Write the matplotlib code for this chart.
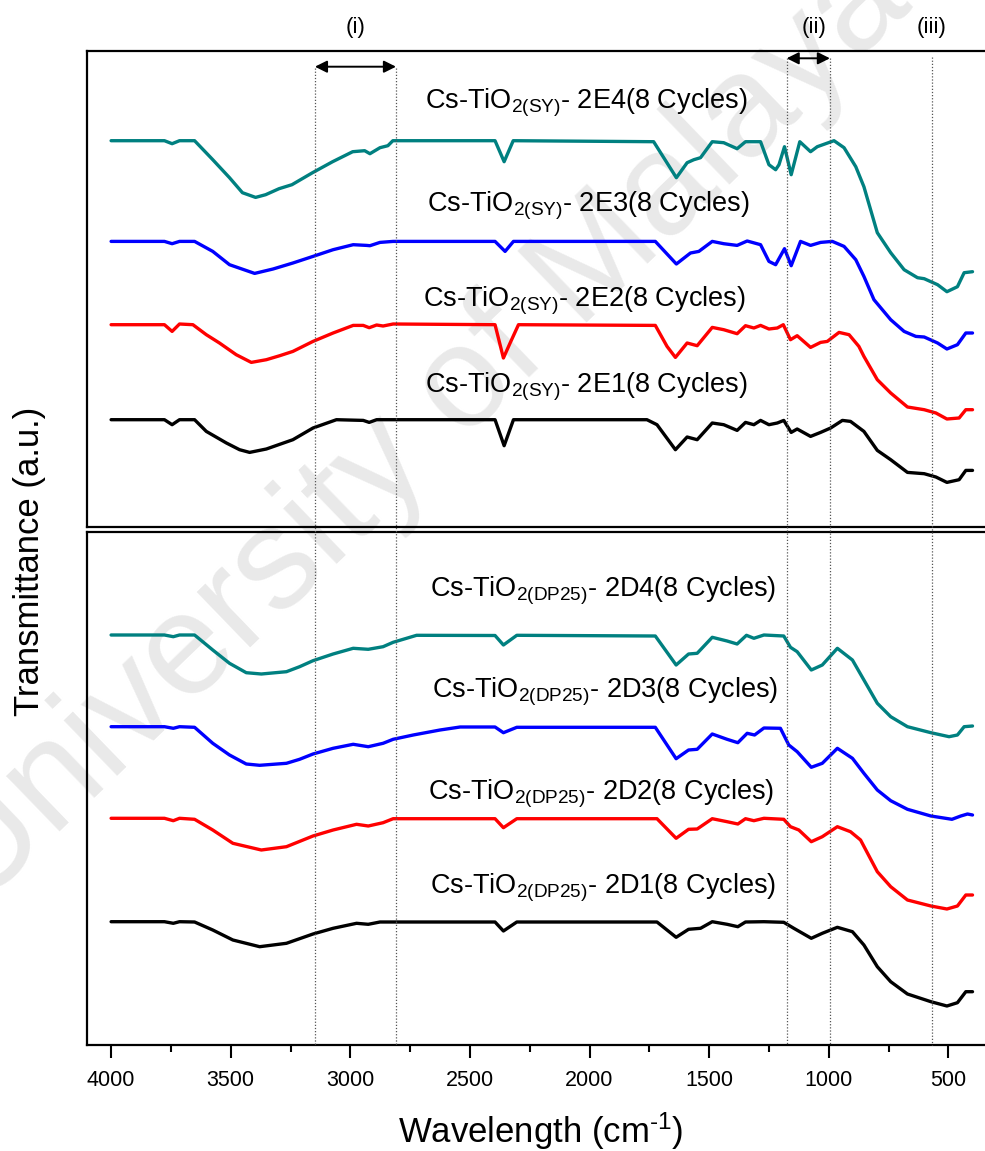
import numpy as np
import matplotlib
matplotlib.use("Agg")
import matplotlib.pyplot as plt
from matplotlib.lines import Line2D
from matplotlib.ticker import MultipleLocator
import matplotlib.transforms as mtransforms

plt.rcParams['font.family'] = ['Liberation Sans', 'DejaVu Sans']
plt.rcParams['mathtext.fontset'] = 'custom'
plt.rcParams['mathtext.rm'] = 'Liberation Sans'
plt.rcParams['mathtext.it'] = 'Liberation Sans:italic'
plt.rcParams['mathtext.bf'] = 'Liberation Sans:bold'

# ---------------- data (wavenumber cm-1, transmittance a.u.) ----------------
wn_2E4 = [4000, 3777, 3745, 3714, 3651, 3575, 3505, 3451, 3396, 3354, 3298, 3244, 3158, 3074, 2990,
          2940, 2918, 2876, 2843, 2822, 2395, 2357, 2319, 1732, 1637, 1592, 1564, 1536, 1487, 1439,
          1383, 1348, 1285, 1250, 1222, 1208, 1185, 1157, 1121, 1076, 1048, 978, 936, 887, 853, 797,
          741, 685, 629, 601, 545, 506, 462, 434, 399]
T_2E4 = [386, 386, 383, 386, 386, 367, 349, 334, 329.3, 332, 338, 342, 354, 365, 375,
         376, 373, 379, 381, 386, 386, 365, 386, 385, 349, 364, 367, 369, 385, 384,
         378, 385, 385, 362, 357, 362, 380, 352, 385, 375, 380, 386, 379, 360, 340, 294,
         274, 257, 249, 248, 242, 235, 240, 254, 255]

wn_2E3 = [4000, 3777, 3745, 3714, 3651, 3575, 3505, 3400, 3323, 3240, 3156, 3072, 2988, 2932, 2918,
          2876, 2821, 2395, 2353, 2318, 1725, 1637, 1578, 1543, 1487, 1439, 1383, 1341, 1285, 1250,
          1222, 1185, 1157, 1118, 1076, 1034, 985, 936, 887, 853, 811, 741, 685, 636, 601, 545, 506,
          462, 427, 399]
T_2E3 = [285.3, 285.3, 283, 285.3, 285.3, 275.3, 262, 253.3, 257.7, 263.7, 270.3, 277, 282, 281.3, 281,
         284.3, 285.3, 285.3, 275.3, 285.3, 285.3, 262.7, 273.7, 275.3, 285.3, 283, 281.3, 285.7, 282, 265.3,
         262, 278, 261, 285.3, 281.3, 284.3, 285.3, 280.3, 267, 250.3, 227, 207, 195.3, 190.3, 189.7, 183.7, 177.7,
         182, 193.7, 193.7]

wn_2E2 = [4000, 3777, 3745, 3714, 3658, 3602, 3547, 3477, 3414, 3351, 3295, 3240, 3156, 3072, 2988,
          2946, 2921, 2890, 2863, 2821, 2395, 2360, 2332, 2297, 1725, 1676, 1641, 1592, 1550, 1487,
          1439, 1383, 1348, 1313, 1285, 1250, 1215, 1190, 1160, 1132, 1076, 1034, 1006, 957, 915, 874,
          853, 797, 741, 671, 601, 552, 506, 455, 427, 399]
T_2E2 = [202, 202, 195.3, 202.7, 202, 192, 183.7, 172, 164.3, 167, 171, 175.3, 185.3, 193.7, 201.3,
         201.3, 199, 201.7, 200.7, 202.7, 202, 168.7, 183.7, 202, 201.3, 180.3, 169.3, 183.7, 181, 199.3,
         197, 193, 201, 198.7, 201.3, 197.7, 198.7, 202, 187, 191, 179.3, 184.3, 185.3, 194.3, 192, 180.3,
         170.3, 147, 133.7, 119.7, 117, 113.7, 107.7, 108.7, 117, 117]

wn_2E1 = [4000, 3777, 3745, 3714, 3651, 3602, 3518, 3463, 3421, 3351, 3240, 3156, 3058, 2946, 2921,
          2890, 2395, 2357, 2318, 1760, 1718, 1641, 1592, 1550, 1487, 1439, 1383, 1348, 1313, 1285,
          1250, 1215, 1188, 1157, 1132, 1076, 1034, 992, 943, 909, 853, 797, 741, 671, 601, 552, 506,
          455, 427, 399]
T_2E1 = [107, 107, 102, 107, 107, 95.3, 83.7, 77, 74.3, 77.7, 87, 98.7, 107, 106.3, 104.3,
         107, 107, 81, 107, 107, 102, 77, 89.7, 87, 103.7, 102, 96.3, 104.3, 102, 106.3,
         102, 103.7, 106.3, 94.3, 97.7, 90.3, 94.3, 98.7, 106.3, 105.3, 95.3, 76.3, 67, 54.3, 53, 49.7, 44.3,
         47, 56.3, 56.3]

wn_2D4 = [4000, 3777, 3740, 3714, 3651, 3575, 3505, 3435, 3372, 3267, 3212, 3156, 3072, 2988, 2925,
          2863, 2821, 2723, 2395, 2360, 2304, 1725, 1638, 1586, 1550, 1487, 1425, 1383, 1344, 1313,
          1271, 1188, 1160, 1132, 1073, 1027, 964, 901, 853, 797, 741, 671, 573, 497, 462, 434, 399]
T_2D4 = [410, 410, 408.3, 410, 410, 395, 381.7, 372.3, 371, 373.3, 378.3, 384.3, 391, 396.7, 395.7,
         398.3, 402.7, 409.7, 409.5, 400, 409.7, 409, 380, 391, 391.7, 407.7, 404, 401, 409.7, 406.7,
         410, 409, 397.7, 393.3, 375, 380, 396.7, 385, 365, 341.7, 328.3, 318.3, 312.3, 308.3, 310, 318.3, 319]

wn_2D3 = [4000, 3777, 3740, 3714, 3651, 3575, 3505, 3435, 3379, 3267, 3212, 3156, 3072, 2988, 2925,
          2863, 2821, 2737, 2625, 2541, 2395, 2360, 2304, 1725, 1638, 1586, 1550, 1487, 1425, 1380,
          1341, 1310, 1271, 1202, 1167, 1132, 1073, 1027, 964, 901, 853, 797, 741, 671, 573, 485, 448,
          420, 399]
T_2D3 = [318.3, 318.3, 316.7, 318.3, 317.7, 301.7, 290, 281, 279.7, 281.7, 285.7, 291, 296.7, 300.7, 298.3,
         301.7, 305.7, 310, 315, 318, 318, 312.3, 317.7, 317.7, 286.3, 295, 295.7, 311, 305.7, 302.3,
         311.7, 310, 317, 316.7, 300, 293.3, 277.7, 281.7, 296.7, 286.7, 271.7, 255, 244.3, 235.7, 229, 225.7, 229,
         231, 230]

wn_2D2 = [4000, 3777, 3740, 3714, 3651, 3575, 3491, 3372, 3267, 3156, 3072, 2974, 2925, 2863, 2821,
          2395, 2360, 2304, 1718, 1638, 1586, 1550, 1487, 1425, 1380, 1348, 1313, 1271, 1188, 1160,
          1125, 1073, 1027, 964, 909, 867, 797, 741, 671, 573, 506, 462, 427, 399]
T_2D2 = [226.7, 226.7, 224.3, 226.7, 225.7, 215, 201.7, 195, 198.3, 209, 215, 220.7, 219, 222.3, 226.3,
         226.3, 217.3, 226.3, 226.3, 206.7, 215.7, 216, 226.3, 223.3, 221, 226.3, 224.3, 226.7, 225.7, 218.3,
         215, 203.3, 208.3, 218.3, 213.3, 205, 173.3, 158.3, 145, 139, 136, 139, 150, 150]

wn_2D1 = [4000, 3777, 3740, 3714, 3651, 3575, 3491, 3379, 3267, 3156, 3072, 2974, 2925, 2876, 2395,
          2360, 2304, 1718, 1638, 1586, 1536, 1487, 1425, 1380, 1348, 1271, 1188, 1146, 1073, 1027,
          964, 901, 853, 797, 741, 671, 573, 506, 462, 427, 399]
T_2D1 = [123.3, 123.3, 121.7, 123.3, 123, 115, 105, 98.3, 101.7, 111, 116.7, 121.7, 120.7, 123, 123,
         114, 123, 123, 107.7, 115.7, 116.7, 123.3, 120.7, 118.3, 123, 123.3, 122.7, 116.7, 106.7, 111.7,
         117.7, 113.3, 100, 78.3, 63.3, 51, 43.3, 39, 42.3, 53.3, 53.3]

labels_top = ["2E4", "2E3", "2E2", "2E1"]
labels_bot = ["2D4", "2D3", "2D2", "2D1"]
colors = ["#008080", "#0000FF", "#FF0000", "#000000"]
region_names = ["(i)", "(ii)", "(iii)"]
region_bounds = [(3148, 2809), (1176, 995), (567, None)]
xticks = [4000, 3500, 3000, 2500, 2000, 1500, 1000, 500]

# ---------------- figure ----------------
W, H = 985, 1151
fig = plt.figure(figsize=(W / 100, H / 100), dpi=100)

def fx(px):
    return px / W

def fy(py):
    return 1 - py / H

left = fx(86.7)
right = fx(995)
ax_top = fig.add_axes([left, fy(526.7), right - left, fy(51) - fy(526.7)])
ax_bot = fig.add_axes([left, fy(1045), right - left, fy(532.3) - fy(1045)])

XL = (4102, 305)
for ax in (ax_top, ax_bot):
    ax.set_xlim(*XL)
    ax.set_facecolor('none')
    ax.set_yticks([])
    for s in ax.spines.values():
        s.set_linewidth(1.6)
ax_top.set_ylim(0, 475.7)
ax_bot.set_ylim(0, 512.7)

ax_top.tick_params(axis='x', which='both', bottom=False, labelbottom=False)
ax_bot.xaxis.set_major_locator(MultipleLocator(500))
ax_bot.xaxis.set_minor_locator(MultipleLocator(250))
ax_bot.set_xticks(xticks)
ax_bot.tick_params(axis='x', which='major', direction='out', length=9, width=1.5,
                   labelsize=15.5, pad=9)
ax_bot.tick_params(axis='x', which='minor', direction='out', length=5, width=1.5)

top_series = [(wn_2E4, T_2E4), (wn_2E3, T_2E3), (wn_2E2, T_2E2), (wn_2E1, T_2E1)]
bot_series = [(wn_2D4, T_2D4), (wn_2D3, T_2D3), (wn_2D2, T_2D2), (wn_2D1, T_2D1)]
for (w, t), c in zip(top_series, colors):
    ax_top.plot(w, t, color=c, lw=2.4, solid_joinstyle='round', solid_capstyle='round', zorder=3)
for (w, t), c in zip(bot_series, colors):
    ax_bot.plot(w, t, color=c, lw=2.4, solid_joinstyle='round', solid_capstyle='round', zorder=3)

# labels
top_lab_x = [2688, 2681, 2695, 2688]
top_lab_y = [418, 315.5, 220.5, 134]
bot_lab_x = [2667, 2660, 2674, 2667]
bot_lab_y = [448.5, 347, 245, 152]
for name, x, y in zip(labels_top, top_lab_x, top_lab_y):
    ax_top.text(x, y, r'Cs-TiO$_{\mathrm{2(SY)}}$- ' + name + '(8 Cycles)',
                fontsize=19.5, ha='left', va='baseline', zorder=4)
for name, x, y in zip(labels_bot, bot_lab_x, bot_lab_y):
    ax_bot.text(x, y, r'Cs-TiO$_{\mathrm{2(DP25)}}$- ' + name + '(8 Cycles)',
                fontsize=19.5, ha='left', va='baseline', zorder=4)

# axis labels
fig.text(0.5 * (left + right), fy(1131), r'Wavelength (cm$^{\text{-1}}$)',
         fontsize=25, ha='center', va='center')
fig.text(fx(30), fy(561), 'Transmittance (a.u.)', fontsize=25, rotation=90,
         ha='center', va='center')

# region markers: dotted lines, arrows, labels
blend = mtransforms.blended_transform_factory(ax_bot.transData, fig.transFigure)
line_tops = [68, 58, 57]
arrow_y = [66.7, 58.3]
for (a, b), ytop in zip(region_bounds, line_tops):
    for xv in (a, b):
        if xv is None:
            continue
        fig.add_artist(Line2D([xv, xv], [fy(ytop), fy(1045)], transform=blend,
                              color='#555555', lw=0.9, ls=(0, (1, 1.5)), zorder=1))
for (a, b), ya in zip(region_bounds[:2], arrow_y):
    ax_top.annotate('', xy=(b, fy(ya)), xytext=(a, fy(ya)), xycoords=blend, textcoords=blend,
                    arrowprops=dict(arrowstyle='<|-|>', color='black', lw=1.4,
                                    mutation_scale=18, shrinkA=0, shrinkB=0))
label_x = [2978, 1062, 569]
for name, xv in zip(region_names, label_x):
    fig.text(xv, fy(28), name, transform=blend, fontsize=16, ha='center', va='center')

# faint watermark
fig.text(fx(420), fy(432), 'University of Malaya', fontsize=104, rotation=44,
         color='#e9e9e9', ha='center', va='center', zorder=-1)

fig.savefig('out.png', dpi=100)
